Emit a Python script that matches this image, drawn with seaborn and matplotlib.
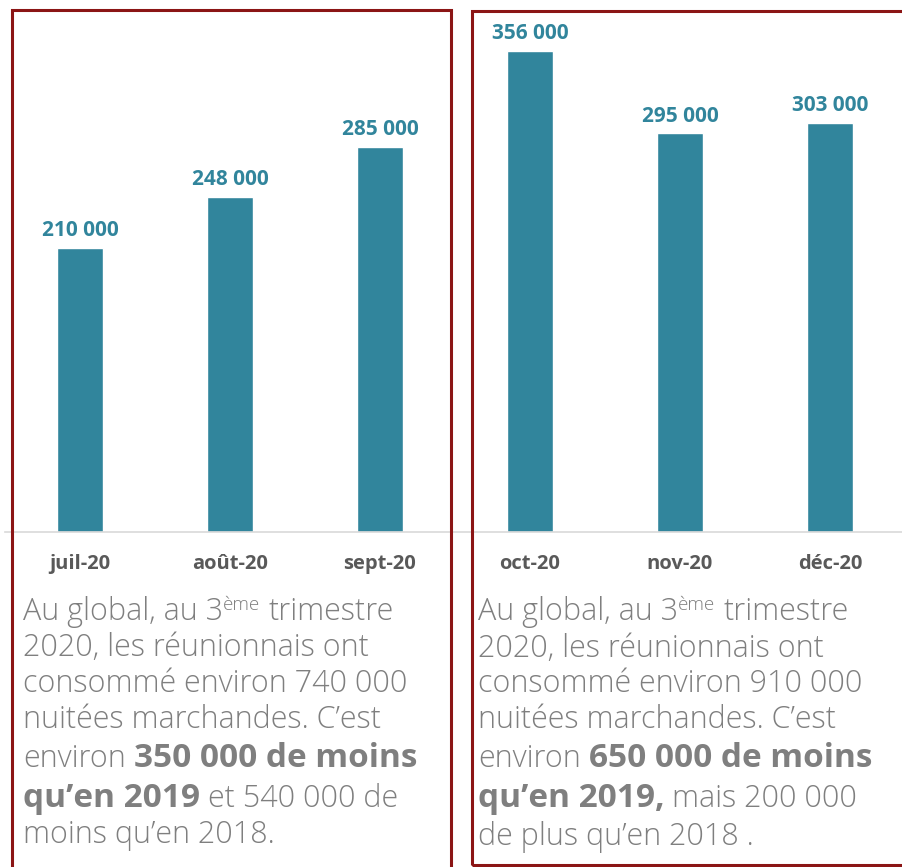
import matplotlib
matplotlib.use("Agg")
import matplotlib.pyplot as plt
import seaborn as sns
import pandas as pd
from matplotlib.patches import Rectangle

# ---- data ----
months = ["juil-20", "août-20", "sept-20", "oct-20", "nov-20", "déc-20"]
nuitees = [210000, 248000, 285000, 356000, 295000, 303000]
value_labels = ["210 000", "248 000", "285 000", "356 000", "295 000", "303 000"]

# text blocks: list of lines, each line a list of (text, style)
left_text = [
    [("Au global, au 3", "n"), ("ème", "sup"), (" trimestre", "n")],
    [("2020, les réunionnais ont", "n")],
    [("consommé environ 740 000", "n")],
    [("nuitées marchandes. C’est", "n")],
    [("environ ", "n"), ("350 000 de moins", "b")],
    [("qu’en 2019", "b"), (" et 540 000 de", "n")],
    [("moins qu’en 2018.", "n")],
]
right_text = [
    [("Au global, au 3", "n"), ("ème", "sup"), (" trimestre", "n")],
    [("2020, les réunionnais ont", "n")],
    [("consommé environ 910 000", "n")],
    [("nuitées marchandes. C’est", "n")],
    [("environ ", "n"), ("650 000 de moins", "b")],
    [("qu’en 2019,", "b"), (" mais 200 000", "n")],
    [("de plus qu’en 2018 .", "n")],
]

sns.set_theme(style="white")
plt.rcParams['font.family'] = ['Open Sans', 'DejaVu Sans']

W, H = 902, 867
fig = plt.figure(figsize=(W / 100, H / 100), dpi=100)
fig.patch.set_facecolor("white")

BAR = "#31859C"
base_y = 532
ax = fig.add_axes([5 / W, 1 - base_y / H, 897 / W, base_y / H])
ax.patch.set_alpha(0)
df = pd.DataFrame({"mois": months, "nuitees": nuitees})
sns.barplot(data=df, x="mois", y="nuitees", color=BAR, saturation=1,
            width=0.31, ax=ax)
ax.set_xlim(-0.5, 5.48)
ax.set_ylim(0, base_y / 1.351 * 1000)
ax.bar_label(ax.containers[0], labels=value_labels, padding=5,
             fontsize=15, fontweight="bold", color="#31859C")
ax.set_xlabel("")
ax.set_ylabel("")
ax.set_yticks([])
ax.tick_params(axis="x", length=0, pad=16)
for lab in ax.get_xticklabels():
    lab.set_fontsize(14.5)
    lab.set_fontweight("bold")
    lab.set_color("#595959")
for s in ["top", "left", "right"]:
    ax.spines[s].set_visible(False)
ax.spines["bottom"].set_color("#D9D9D9")
ax.spines["bottom"].set_linewidth(1.2)

# ---- text blocks ----
renderer = fig.canvas.get_renderer()
GRAY = "#7F7F7F"
styles = {
    "n": dict(fontsize=22, fontweight="light"),
    "b": dict(fontsize=24, fontweight="bold"),
    "sup": dict(fontsize=13.5, fontweight="light"),
}


def space_width(st):
    t1 = fig.text(0, 0, "x x", **styles[st])
    t2 = fig.text(0, 0, "xx", **styles[st])
    w = t1.get_window_extent(renderer).width - t2.get_window_extent(renderer).width
    t1.remove()
    t2.remove()
    return w


sw = {k: space_width(k) for k in styles}


def draw_block(x0, baselines, lines):
    for yb, segs in zip(baselines, lines):
        x = x0
        for txt, st in segs:
            lead = len(txt) - len(txt.lstrip(" "))
            trail = len(txt) - len(txt.rstrip(" "))
            x += lead * sw[st]
            core = txt.strip(" ")
            y = yb - (10 if st == "sup" else 0)
            t = fig.text(x / W, 1 - y / H, core, va="baseline", ha="left",
                         color=GRAY, **styles[st])
            bb = t.get_window_extent(renderer)
            x = bb.x1 + trail * sw[st]


draw_block(23, [620, 656, 692, 728, 767, 807, 843], left_text)
draw_block(478, [620, 657, 692, 728, 767, 807, 845], right_text)

# ---- frames ----
RED = "#8B1515"
fig.add_artist(Rectangle((12 / W, 1 - 900 / H), (451 - 12) / W, (900 - 10) / H,
                         transform=fig.transFigure, fill=False, ec=RED, lw=2.2))
fig.add_artist(Rectangle((472 / W, 1 - 865 / H), (915 - 472) / W, (865 - 11) / H,
                         transform=fig.transFigure, fill=False, ec=RED, lw=2.2))

fig.savefig("out.png", dpi=100)
